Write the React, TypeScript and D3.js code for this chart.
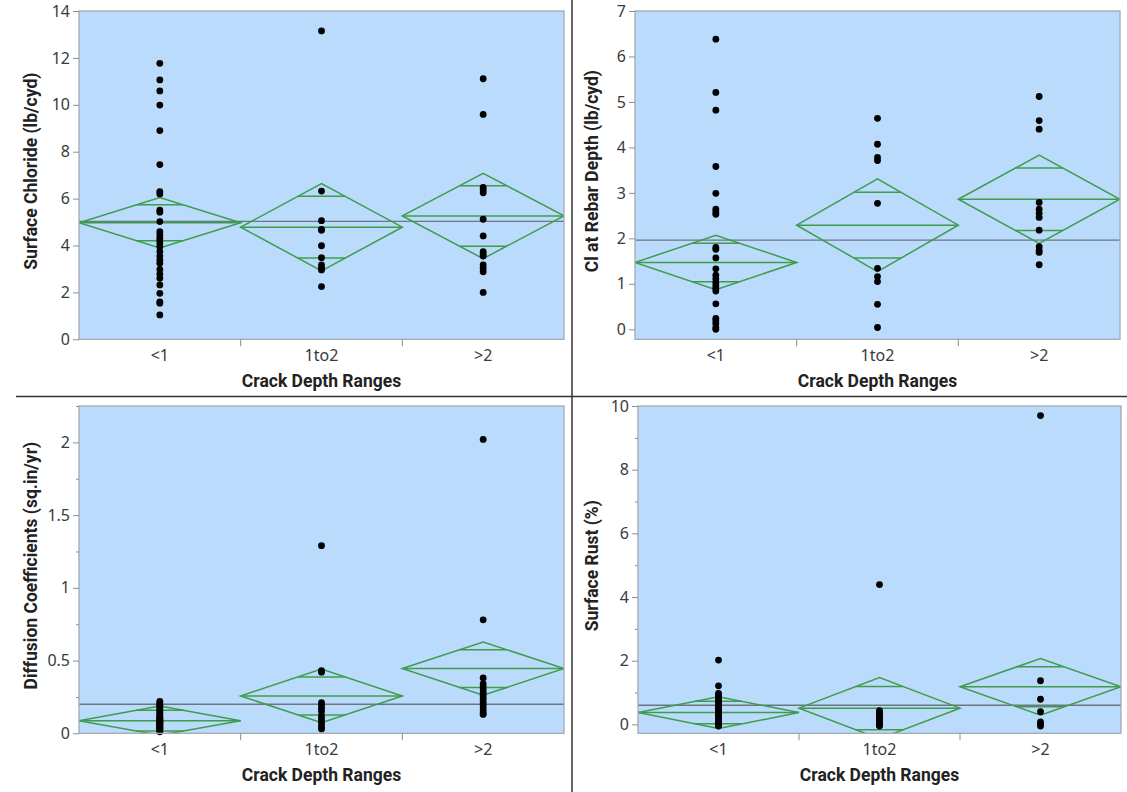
import React, { useEffect, useRef } from "react";
import * as d3 from "d3";

const categories = ["<1", "1to2", ">2"];
const xTitle = "Crack Depth Ranges";

// Surface Chloride (lb/cyd)
const chlorideLt1 = [11.77, 11.06, 10.59, 9.99, 8.9, 7.45, 6.3, 6.2, 5.51, 5.42, 5.02, 4.59, 4.45, 4.31, 4.21, 4.09, 3.95, 3.74, 3.55, 3.38, 3.24, 2.98, 2.78, 2.6, 2.32, 1.96, 1.6, 1.54, 1.04];
const chloride1to2 = [13.15, 6.32, 5.06, 4.69, 4.65, 3.99, 3.48, 3.17, 3.06, 2.96, 2.25];
const chlorideGt2 = [11.11, 9.59, 6.48, 6.37, 6.25, 5.12, 4.41, 3.74, 3.64, 3.55, 3.17, 3.03, 2.88, 2.0];
const chlorideMeans = [4.97, 4.78, 5.26];
const chlorideCI = [1.08, 1.86, 1.82];
const chlorideGrand = 5.03;

// Cl at Rebar Depth (lb/cyd)
const rebarLt1 = [6.38, 5.21, 4.82, 3.58, 2.99, 2.64, 2.58, 2.53, 1.8, 1.76, 1.57, 1.33, 1.19, 1.11, 1.03, 0.96, 0.9, 0.84, 0.56, 0.24, 0.19, 0.13, 0.04, 0.0];
const rebar1to2 = [4.64, 4.07, 3.78, 3.71, 2.77, 1.34, 1.16, 1.05, 0.55, 0.04];
const rebarGt2 = [5.12, 4.59, 4.4, 2.79, 2.64, 2.55, 2.46, 2.18, 1.82, 1.74, 1.69, 1.42];
const rebarMeans = [1.47, 2.29, 2.86];
const rebarCI = [0.6, 1.02, 0.97];
const rebarGrand = 1.96;

// Diffusion Coefficients (sq.in/yr)
const diffLt1 = [0.22, 0.21, 0.2, 0.19, 0.18, 0.17, 0.16, 0.15, 0.14, 0.13, 0.12, 0.11, 0.1, 0.1, 0.09, 0.09, 0.08, 0.08, 0.07, 0.07, 0.06, 0.06, 0.05, 0.05, 0.04, 0.04, 0.03, 0.03, 0.02, 0.01];
const diff1to2 = [1.29, 0.43, 0.42, 0.21, 0.19, 0.17, 0.15, 0.12, 0.1, 0.08, 0.06, 0.04, 0.03];
const diffGt2 = [2.02, 0.78, 0.38, 0.34, 0.32, 0.3, 0.28, 0.26, 0.24, 0.22, 0.2, 0.18, 0.16, 0.14, 0.13];
const diffMeans = [0.087, 0.257, 0.445];
const diffCI = [0.1, 0.185, 0.183];
const diffGrand = 0.2;

// Surface Rust (%)
const rustLt1 = [2.02, 1.21, 0.97, 0.92, 0.86, 0.8, 0.74, 0.68, 0.62, 0.56, 0.5, 0.45, 0.4, 0.35, 0.3, 0.25, 0.2, 0.15, 0.1, 0.05, 0.02, 0.0, 0.0, 0.0, -0.03, -0.05];
const rust1to2 = [4.39, 0.43, 0.38, 0.33, 0.28, 0.22, 0.16, 0.1, 0.05, 0.0, -0.03, -0.05];
const rustGt2 = [9.7, 1.37, 0.79, 0.4, 0.08, 0.0, -0.05];
const rustMeans = [0.37, 0.51, 1.18];
const rustCI = [0.5, 0.96, 0.89];
const rustGrand = 0.6;

const panels = [
  {
    id: "p1", yTitle: "Surface Chloride (lb/cyd)",
    box: { left: 79, right: 564, top: 11, bottom: 339.3 }, titleX: 37,
    domain: [0, 14], ticks: [0, 2, 4, 6, 8, 10, 12, 14], minor: [],
    points: [chlorideLt1, chloride1to2, chlorideGt2], means: chlorideMeans, ci: chlorideCI, grand: chlorideGrand,
  },
  {
    id: "p2", yTitle: "Cl at Rebar Depth (lb/cyd)",
    box: { left: 635, right: 1120, top: 11, bottom: 339.3 }, titleX: 598,
    domain: [-0.22, 7], ticks: [0, 1, 2, 3, 4, 5, 6, 7], minor: [],
    points: [rebarLt1, rebar1to2, rebarGt2], means: rebarMeans, ci: rebarCI, grand: rebarGrand,
  },
  {
    id: "p3", yTitle: "Diffusion Coefficients (sq.in/yr)",
    box: { left: 79, right: 564, top: 406, bottom: 733.3 }, titleX: 37,
    domain: [0, 2.25], ticks: [0, 0.5, 1, 1.5, 2], minor: [0.25, 0.75, 1.25, 1.75, 2.25],
    points: [diffLt1, diff1to2, diffGt2], means: diffMeans, ci: diffCI, grand: diffGrand,
  },
  {
    id: "p4", yTitle: "Surface Rust (%)",
    box: { left: 638, right: 1121, top: 406, bottom: 733.3 }, titleX: 598,
    domain: [-0.28, 10], ticks: [0, 2, 4, 6, 8, 10], minor: [1, 3, 5, 7, 9],
    points: [rustLt1, rust1to2, rustGt2], means: rustMeans, ci: rustCI, grand: rustGrand,
  },
];

const green = "#3f9c4d";
const tickFont = "'Noto Sans', sans-serif";
const titleFont = "Roboto, sans-serif";

function Panel({ cfg }: { cfg: any }) {
  const ref = useRef<SVGGElement>(null);

  useEffect(() => {
    const g = d3.select(ref.current);
    g.selectAll("*").remove();
    const { left, right, top, bottom } = cfg.box;

    const x = d3.scaleBand().domain(categories).range([left, right]).padding(0);
    const y = d3.scaleLinear().domain(cfg.domain).range([bottom, top]);
    const bw = x.bandwidth();

    // plot background
    g.append("rect")
      .attr("x", left).attr("y", top)
      .attr("width", right - left).attr("height", bottom - top)
      .attr("fill", "#badbfb");

    const clipId = `clip-${cfg.id}`;
    g.append("clipPath").attr("id", clipId)
      .append("rect")
      .attr("x", left).attr("y", top)
      .attr("width", right - left).attr("height", bottom - top);
    const plot = g.append("g").attr("clip-path", `url(#${clipId})`);

    // grand mean
    plot.append("line")
      .attr("x1", left).attr("x2", right)
      .attr("y1", y(cfg.grand)).attr("y2", y(cfg.grand))
      .attr("stroke", "#6b7680").attr("stroke-width", 1.4);

    // means diamonds
    categories.forEach((c, i) => {
      const x0 = x(c) as number;
      const x1 = x0 + bw;
      const xc = x0 + bw / 2;
      const m = cfg.means[i];
      const h = cfg.ci[i];
      const diamond = d3.path();
      diamond.moveTo(x0, y(m));
      diamond.lineTo(xc, y(m + h));
      diamond.lineTo(x1, y(m));
      diamond.lineTo(xc, y(m - h));
      diamond.closePath();
      plot.append("path").attr("d", diamond.toString())
        .attr("fill", "none").attr("stroke", green).attr("stroke-width", 1.5);
      plot.append("line")
        .attr("x1", x0).attr("x2", x1).attr("y1", y(m)).attr("y2", y(m))
        .attr("stroke", green).attr("stroke-width", 1.5);
      // overlap marks
      const o = h / Math.SQRT2;
      const half = (bw / 2) * (1 - o / h);
      [m + o, m - o].forEach((v) => {
        plot.append("line")
          .attr("x1", xc - half).attr("x2", xc + half)
          .attr("y1", y(v)).attr("y2", y(v))
          .attr("stroke", green).attr("stroke-width", 1.5);
      });
    });

    // points
    categories.forEach((c, i) => {
      const xc = (x(c) as number) + bw / 2;
      g.append("g").selectAll("circle")
        .data(cfg.points[i])
        .enter().append("circle")
        .attr("cx", xc).attr("cy", (d: number) => y(d))
        .attr("r", 3.4).attr("fill", "#000");
    });

    // frame
    g.append("rect")
      .attr("x", left).attr("y", top)
      .attr("width", right - left).attr("height", bottom - top)
      .attr("fill", "none").attr("stroke", "#a3aab2").attr("stroke-width", 1.3);

    // y axis
    const yAxis = g.append("g").attr("transform", `translate(${left},0)`)
      .call(d3.axisLeft(y).tickValues(cfg.ticks).tickSize(6).tickPadding(3).tickFormat(d3.format("~g") as any));
    yAxis.select(".domain").remove();
    yAxis.selectAll("line").attr("stroke", "#8a8f95");
    yAxis.selectAll("text").attr("font-family", tickFont).attr("font-size", 16).attr("fill", "#3a3a3a");

    if (cfg.minor.length) {
      const minorAxis = g.append("g").attr("transform", `translate(${left},0)`)
        .call(d3.axisLeft(y).tickValues(cfg.minor).tickSize(3).tickFormat(() => ""));
      minorAxis.select(".domain").remove();
      minorAxis.selectAll("line").attr("stroke", "#8a8f95");
    }

    // x axis: separators between categories, labels at centers
    categories.slice(1).forEach((c) => {
      const xb = x(c) as number;
      g.append("line")
        .attr("x1", xb).attr("x2", xb).attr("y1", bottom).attr("y2", bottom + 7)
        .attr("stroke", "#8a8f95");
    });
    g.append("g").selectAll("text")
      .data(categories).enter().append("text")
      .attr("x", (d: string) => (x(d) as number) + bw / 2)
      .attr("y", bottom + 21.5)
      .attr("text-anchor", "middle")
      .attr("font-family", tickFont).attr("font-size", 16).attr("fill", "#3a3a3a")
      .text((d: string) => d);

    // titles
    g.append("text")
      .attr("x", (left + right) / 2).attr("y", bottom + 48)
      .attr("text-anchor", "middle")
      .attr("font-family", titleFont).attr("font-weight", 700).attr("font-size", 17.5).attr("fill", "#222")
      .text(xTitle);
    g.append("text")
      .attr("transform", `translate(${cfg.titleX},${(top + bottom) / 2 - 4}) rotate(-90)`)
      .attr("text-anchor", "middle")
      .attr("font-family", titleFont).attr("font-weight", 700).attr("font-size", 17.5).attr("fill", "#222")
      .text(cfg.yTitle);
  }, [cfg]);

  return <g ref={ref} />;
}

export default function App() {
  return (
    <svg
      width={1127}
      height={792}
      style={{ position: "absolute", left: 0, top: 0, background: "#fff" }}
    >
      {panels.map((p) => (
        <Panel key={p.id} cfg={p} />
      ))}
      <line x1={572} x2={572} y1={0} y2={792} stroke="#333" strokeWidth={1.5} />
      <line x1={16} x2={1127} y1={396.5} y2={396.5} stroke="#333" strokeWidth={1.5} />
    </svg>
  );
}
